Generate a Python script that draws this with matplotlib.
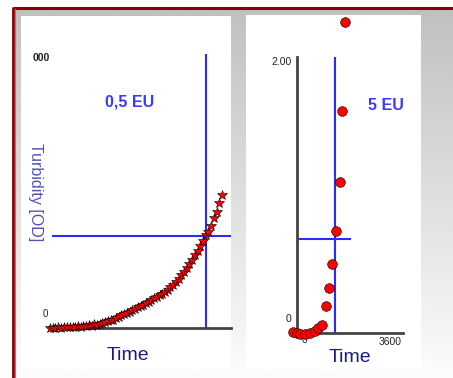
import numpy as np
import matplotlib.pyplot as plt
from matplotlib.patches import Rectangle

plt.rcParams['font.family'] = ['Liberation Sans', 'DejaVu Sans']

# -----------------------------
# Data
# -----------------------------
# left panel: 0,5 EU, time in % of axis, turbidity in OD
t_left = [0, 1.5, 3, 4.5, 6, 8, 9.5, 11, 12.5, 14, 15.5, 17, 18.5, 20, 21.5,
          23, 24.5, 26, 27.5, 29, 30.5, 32, 33.5, 35, 36.5, 38, 39.5, 41,
          42.5, 44, 45.5, 47, 48.5, 50, 51.5, 53, 54.5, 56, 57.5, 59, 60.5,
          62, 63.5, 65, 66.5, 68, 69.5, 71, 72.5, 74, 75.5, 77, 78.5, 80,
          81.5, 83, 84.5, 86, 87.5, 89, 90.5, 92, 93.5, 95]
od_left = [0.000, 0.001, 0.000, 0.002, 0.001, 0.003, 0.002, 0.004, 0.005,
           0.004, 0.006, 0.005, 0.008, 0.007, 0.010, 0.009, 0.013, 0.012,
           0.016, 0.018, 0.021, 0.024, 0.030, 0.031, 0.037, 0.041, 0.046,
           0.050, 0.054, 0.060, 0.064, 0.071, 0.075, 0.081, 0.085, 0.092,
           0.096, 0.101, 0.108, 0.113, 0.119, 0.125, 0.132, 0.140, 0.150,
           0.158, 0.168, 0.180, 0.192, 0.203, 0.220, 0.235, 0.250, 0.265,
           0.282, 0.300, 0.318, 0.338, 0.352, 0.372, 0.400, 0.425, 0.455,
           0.485]
onset_left = 86.2
thresh_left = 0.336

# right panel: 5 EU
t_right = [-3.8, 0.0, 2.8, 7.5, 12.3, 17.0, 19.8, 23.6, 27.4, 30.2, 33.0,
           36.8, 40.6, 42.5, 45.3]
od_right = [0.004, 0.000, -0.004, -0.004, 0.000, 0.007, 0.018, 0.029, 0.098,
            0.163, 0.250, 0.370, 0.547, 0.804, 1.127]
onset_right = 35.8
thresh_right = 0.341

W, H = 453, 378
blue = '#2b2bff'

fig = plt.figure(figsize=(W / 100, H / 100), dpi=100)
fig.patch.set_facecolor('white')

# background in pixel coordinates
bg = fig.add_axes([0, 0, 1, 1])
bg.set_xlim(0, W)
bg.set_ylim(H, 0)
bg.axis('off')
grad = np.linspace(192, 252, 256).reshape(-1, 1) / 255.0
bg.imshow(grad, cmap='gray', vmin=0, vmax=1, extent=[15, W, H, 9],
          aspect='auto', interpolation='bilinear')
bg.plot([12.5, W], [8, 8], color='#8b0000', lw=2.2, solid_capstyle='butt')
bg.plot([13, 13], [7, H], color='#8b0000', lw=2.0, solid_capstyle='butt')
bg.plot([14.5, 14.5], [9, H], color='#c07070', lw=0.8)
bg.add_patch(Rectangle((21, 16), 210, 354, color='white', lw=0))
bg.add_patch(Rectangle((246, 15), 175, 355, color='white', lw=0))

# texts
bg.text(130, 102, '0,5 EU', color='#3a3aff', fontsize=11.5,
        fontweight='bold', ha='center', va='center')
bg.text(386, 106, '5 EU', color='#3a3aff', fontsize=11.5,
        fontweight='bold', ha='center', va='center')
bg.text(128, 356, 'Time', color='#1a1a8c', fontsize=14,
        ha='center', va='center')
bg.text(350, 358, 'Time', color='#1a1a8c', fontsize=14,
        ha='center', va='center')
bg.text(35, 192, 'Turbidity [OD]', color='#5050b8', fontsize=11.5,
        rotation=-90, ha='center', va='center')
bg.text(50, 58, '000', color='#222222', fontsize=7.5, fontweight='bold',
        ha='right', va='center')
bg.text(45, 314, '0', color='#222222', fontsize=7, ha='center', va='center')
bg.text(292, 62, '2.00', color='#222222', fontsize=7.5, ha='right',
        va='center')
bg.text(289, 319, '0', color='#222222', fontsize=7.5, ha='center',
        va='center')
bg.text(305, 340, '0', color='#222222', fontsize=7.5, ha='center',
        va='center')
bg.text(390, 342, '3600', color='#222222', fontsize=7.5, ha='center',
        va='center')

# -----------------------------
# Left plot
# -----------------------------
ax1 = fig.add_axes([50 / W, (H - 328) / H, 181 / W, 274 / H])
ax1.set_xlim(0, 100)
ax1.set_ylim(0, 1)
ax1.patch.set_alpha(0)
for s in ['left', 'right', 'top']:
    ax1.spines[s].set_visible(False)
ax1.spines['bottom'].set_color('#444444')
ax1.spines['bottom'].set_linewidth(2)
ax1.set_xticks([])
ax1.set_yticks([])
ax1.axvline(onset_left, color=blue, lw=1.5)
ax1.axhline(thresh_left, xmin=0.017, xmax=1, color=blue, lw=1.5)
ax1.plot(t_left, od_left, ls='none', marker='*', ms=7.5, mfc='red',
         mec='black', mew=0.4, clip_on=False, zorder=5)

# -----------------------------
# Right plot
# -----------------------------
ax2 = fig.add_axes([297 / W, (H - 333) / H, 106 / W, 276 / H])
ax2.set_xlim(0, 100)
ax2.set_ylim(0, 1)
ax2.patch.set_alpha(0)
for s in ['right', 'top']:
    ax2.spines[s].set_visible(False)
for s in ['left', 'bottom']:
    ax2.spines[s].set_color('#444444')
    ax2.spines[s].set_linewidth(2)
ax2.set_xticks([])
ax2.set_yticks([])
ax2.axvline(onset_right, color=blue, lw=1.5)
ax2.axhline(thresh_right, xmin=0, xmax=0.5, color=blue, lw=1.5)
ax2.plot(t_right, od_right, ls='none', marker='o', ms=7, mfc='red',
         mec='black', mew=0.4, clip_on=False, zorder=5)

fig.savefig('out.png', dpi=100)
